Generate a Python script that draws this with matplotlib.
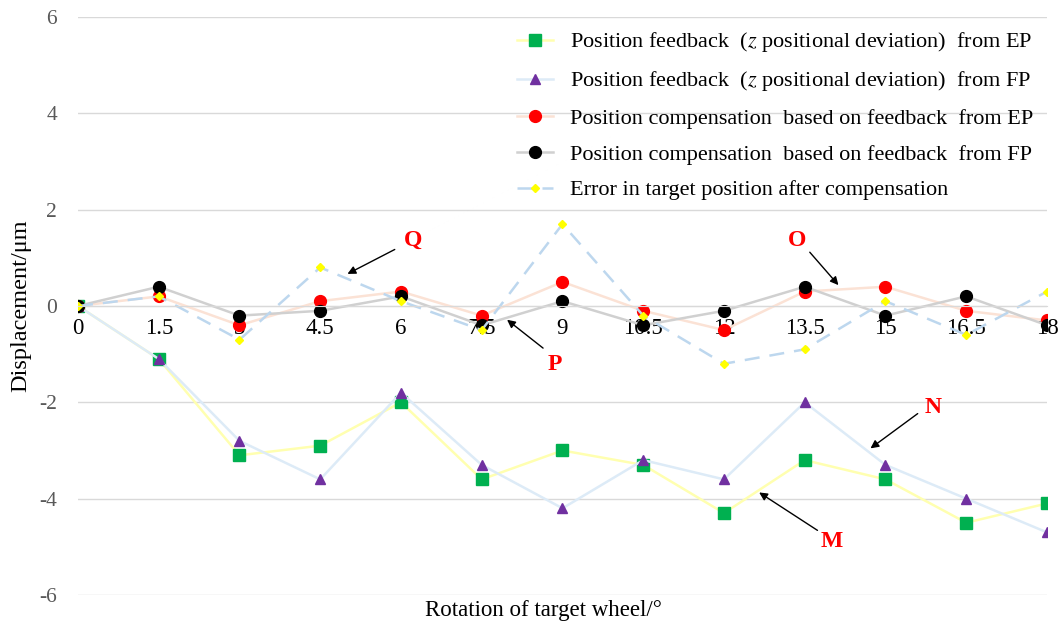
import matplotlib.pyplot as plt

plt.rcParams['font.family'] = ['Liberation Serif', 'DejaVu Serif']
plt.rcParams['mathtext.fontset'] = 'stix'
plt.rcParams['axes.unicode_minus'] = False

# rotation angle of the target wheel (degrees)
angles = [0, 1.5, 3, 4.5, 6, 7.5, 9, 10.5, 12, 13.5, 15, 16.5, 18]
tick_labels = ['0', '1.5', '3', '4.5', '6', '7.5', '9', '10.5', '12', '13.5', '15', '16.5', '18']

# displacement in um
feedback_ep = [0, -1.1, -3.1, -2.9, -2.0, -3.6, -3.0, -3.3, -4.3, -3.2, -3.6, -4.5, -4.1]
feedback_fp = [0, -1.1, -2.8, -3.6, -1.8, -3.3, -4.2, -3.2, -3.6, -2.0, -3.3, -4.0, -4.7]
comp_ep = [0, 0.2, -0.4, 0.1, 0.3, -0.2, 0.5, -0.1, -0.5, 0.3, 0.4, -0.1, -0.3]
comp_fp = [0, 0.4, -0.2, -0.1, 0.2, -0.4, 0.1, -0.4, -0.1, 0.4, -0.2, 0.2, -0.4]
target_error = [0, 0.2, -0.7, 0.8, 0.1, -0.5, 1.7, -0.2, -1.2, -0.9, 0.1, -0.6, 0.3]

fig = plt.figure(figsize=(10.64, 6.3), dpi=100)
ax = fig.add_axes([0.0733, 0.0556, 0.9107, 0.9174])

ax.plot(angles, feedback_ep, color='#FFFFB0', lw=1.8, marker='s', ms=8.5,
        mfc='#00B050', mec='#00B050',
        label='Position feedback  ($z$ positional deviation)  from EP')
ax.plot(angles, feedback_fp, color='#DDEBF7', lw=1.8, marker='^', ms=7.5,
        mfc='#7030A0', mec='#7030A0',
        label='Position feedback  ($z$ positional deviation)  from FP')
ax.plot(angles, comp_ep, color='#FBE2D5', lw=1.8, marker='o', ms=8.5,
        mfc='#FF0000', mec='#FF0000',
        label='Position compensation  based on feedback  from EP')
ax.plot(angles, comp_fp, color='#D0D0D0', lw=1.8, marker='o', ms=8.5,
        mfc='black', mec='black',
        label='Position compensation  based on feedback  from FP')
ax.plot(angles, target_error, color='#BDD7EE', lw=1.8, ls=(0, (6, 4)),
        marker='D', ms=4, mfc='#FFFF00', mec='#FFFF00',
        label='Error in target position after compensation')

ax.set_xlim(0, 18)
ax.set_ylim(-6, 6)
ax.set_yticks(range(-6, 7, 2))
ax.set_xticks(angles)
ax.set_xticklabels(tick_labels)
ax.grid(axis='y', color='#D9D9D9', lw=1)
ax.set_axisbelow(True)
for side in ['top', 'right', 'left']:
    ax.spines[side].set_visible(False)
ax.spines['bottom'].set_position(('data', 0))
ax.spines['bottom'].set_color('#D9D9D9')
ax.tick_params(axis='x', length=0, pad=9, labelsize=16.5, colors='black')
ax.tick_params(axis='y', length=0, pad=15, labelsize=15.5, labelcolor='#595959')

ax.set_ylabel('Displacement/\u03bcm', fontsize=17.5, labelpad=6)
fig.text(0.511, 0.023, 'Rotation of target wheel/\u00b0', ha='center', fontsize=16.5)

# callout letters with arrows
callouts = [
    ('Q', (6.22, 1.37), (5.93, 1.2), (4.96, 0.64)),
    ('O', (13.36, 1.37), (13.56, 1.16), (14.16, 0.39)),
    ('P', (8.86, -1.22), (8.68, -0.91), (7.93, -0.25)),
    ('N', (15.88, -2.1), (15.64, -2.2), (14.68, -2.99)),
    ('M', (14.0, -4.9), (13.78, -4.69), (12.61, -3.84)),
]
for letter, pos, tail, head in callouts:
    ax.text(pos[0], pos[1], letter, color='#FF0000', fontsize=17,
            fontweight='bold', ha='center', va='center')
    ax.annotate('', xy=head, xytext=tail,
                arrowprops=dict(arrowstyle='-|>', color='black', lw=1,
                                mutation_scale=12))

ax.legend(loc='upper right', bbox_to_anchor=(1.0, 1.0), frameon=False,
          fontsize=16, handlelength=1.6, handletextpad=0.8,
          labelspacing=0.68, borderaxespad=0.2)

fig.savefig('out.png', dpi=100)
